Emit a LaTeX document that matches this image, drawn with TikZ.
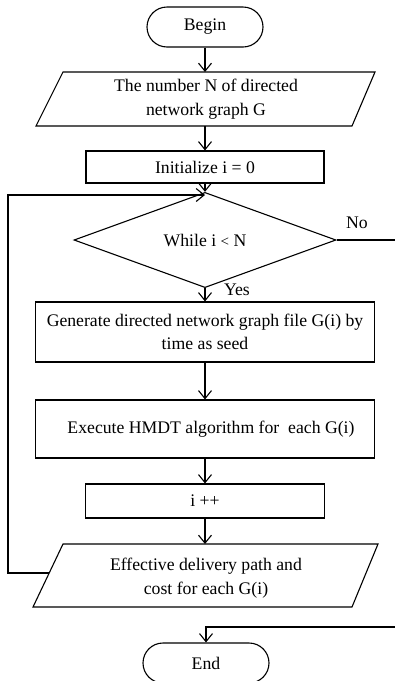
\documentclass[tikz,border=0pt]{standalone}
\usepackage{fontspec}
\setmainfont{Liberation Serif}
\usetikzlibrary{arrows.meta,shapes.geometric,shapes.misc}
\begin{document}
\begin{tikzpicture}[x=1pt,y=-1pt,line width=1.1pt,
  every node/.style={font=\fontsize{17.7}{23.5}\selectfont,inner sep=0pt,align=center},
  boxnode/.style={draw,rectangle},
  termnode/.style={draw,rounded rectangle},
  decnode/.style={draw,diamond},
  arr/.style={-{Straight Barb[length=8pt,width=13pt,line width=1.1pt]}},
  lbl/.style={font=\fontsize{17.7}{20}\selectfont}]
\useasboundingbox (0,0) rectangle (395,681);
\begin{scope}
\clip (0,0) rectangle (395,681);
% Begin
\node[termnode,minimum width=116pt,minimum height=40pt] (begin) at (205,27) {Begin};
% Parallelogram 1
\draw (63,72) -- (375,72) -- (352,126) -- (36,126) -- cycle;
\node (p1) at (206,99) {The number N of directed\\network graph G};
\coordinate (p1top) at (205,72);
\coordinate (p1bot) at (205,126);
% Initialize
\node[boxnode,minimum width=238pt,minimum height=32pt] (init) at (205,167) {Initialize i = 0};
% Decision
\node[decnode,minimum width=262pt,minimum height=58pt] (dia) at (205,240) {While i {\fontsize{15}{15}\selectfont<} N};
% Generate
\node[boxnode,minimum width=339pt,minimum height=60pt] (gen) at (205,332) {Generate directed network graph file G(i) by\\time as seed};
% Execute
\node[boxnode,minimum width=339pt,minimum height=58pt] (exec) at (205,429) {\hspace{12pt}Execute HMDT algorithm for~ each G(i)};
% i++
\node[boxnode,minimum width=239pt,minimum height=34pt] (inc) at (205,501) {i ++};
% Parallelogram 2
\draw (63,544) -- (378,544) -- (352,607) -- (33,607) -- cycle;
\node (p2) at (206,578) {Effective delivery path and\\cost for each G(i)};
\coordinate (p2top) at (205,544);
\coordinate (p2left) at (49,573);
% End
\node[termnode,minimum width=126pt,minimum height=40pt] (end) at (206,663) {End};
% helper coordinates
\coordinate (join) at (205,195);
\coordinate (loopx) at (8,195);
\coordinate (noend) at (395,240);
\coordinate (endin) at (395,627);
% connectors
\draw[arr] (begin.south) -- (p1top);
\draw[arr] (p1bot) -- (init.north);
\draw[arr] (init.south) -- (dia.north);
\draw[arr] (p2left) -- (p2left -| loopx) -- (loopx) -- (join);
\draw (dia.east) -- (noend);
\node[lbl] (nolbl) at (357,223) {No};
\draw[arr] (dia.south) -- (gen.north);
\node[lbl] (yeslbl) at (237,290) {Yes};
\draw[arr] (gen.south) -- (exec.north);
\draw[arr] (exec.south) -- (inc.north);
\draw[arr] (inc.south) -- (p2top);
\draw[arr] (endin) -| (end.north);
\end{scope}
\end{tikzpicture}
\end{document}
